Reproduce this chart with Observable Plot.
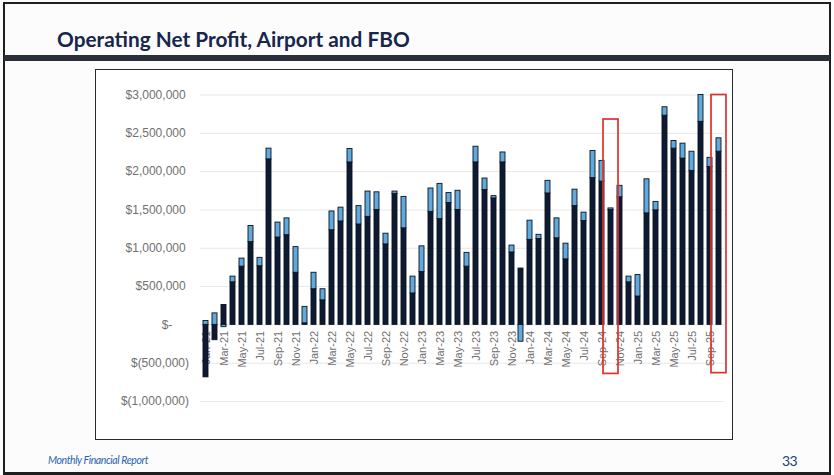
<!DOCTYPE html>
<html>
<head>
<meta charset="utf-8">
<script src="https://cdn.jsdelivr.net/npm/d3@7"></script>
<script src="https://cdn.jsdelivr.net/npm/@observablehq/plot@0.6"></script>
<style>
  html, body { margin: 0; padding: 0; background: #ffffff; }
  #page { position: relative; width: 834px; height: 475px; overflow: hidden; background: #fcfcfc; }
  #frame { position: absolute; left: 3px; top: 2px; width: 828px; height: 473px; box-sizing: border-box;
           border: 2px solid #1e1e1e; border-bottom-width: 3px; }
  #title { position: absolute; left: 57px; top: 27px; font-family: Lato, "Open Sans", sans-serif; font-weight: 700;
           font-size: 20.8px; line-height: 24px; color: #17264a; white-space: nowrap; }
  #rule { position: absolute; left: 4px; top: 55px; width: 826px; height: 6px; background: #2a2f39; }
  #box { position: absolute; left: 95px; top: 69px; width: 638px; height: 371px; box-sizing: border-box;
         border: 1.5px solid #2b2b2b; background: #ffffff; }
  #chart { position: absolute; left: 96px; top: 70px; width: 635px; height: 368px; }
  #footer { position: absolute; left: 48px; top: 454px; font-family: Lato, sans-serif; font-style: italic;
            font-size: 10.5px; letter-spacing: -0.4px; color: #2a62ae; white-space: nowrap; }
  #pageno { position: absolute; left: 782px; top: 452px; font-family: Lato, sans-serif; font-size: 14px;
            color: #1f3d70; letter-spacing: -0.5px; }
</style>
</head>
<body>
<div id="page">
  <div id="frame"></div>
  <div id="title">Operating Net Profit, Airport and FBO</div>
  <div id="rule"></div>
  <div id="box"></div>
  <div id="chart"></div>
  <div id="footer">Monthly Financial Report</div>
  <div id="pageno">33</div>
</div>
<script>
// ---- data ----
const months = [
  "Jan-21","Feb-21","Mar-21","Apr-21","May-21","Jun-21","Jul-21","Aug-21","Sep-21","Oct-21","Nov-21","Dec-21",
  "Jan-22","Feb-22","Mar-22","Apr-22","May-22","Jun-22","Jul-22","Aug-22","Sep-22","Oct-22","Nov-22","Dec-22",
  "Jan-23","Feb-23","Mar-23","Apr-23","May-23","Jun-23","Jul-23","Aug-23","Sep-23","Oct-23","Nov-23","Dec-23",
  "Jan-24","Feb-24","Mar-24","Apr-24","May-24","Jun-24","Jul-24","Aug-24","Sep-24","Oct-24","Nov-24","Dec-24",
  "Jan-25","Feb-25","Mar-25","Apr-25","May-25","Jun-25","Jul-25","Aug-25","Sep-25","Oct-25"
];
const airport = [
  -685000, -200000, 260000, 555000, 760000, 1080000, 765000, 2160000, 1140000, 1170000, 680000, 20000,
  465000, 320000, 1235000, 1350000, 2120000, 1310000, 1410000, 1500000, 1050000, 1710000, 1260000, 410000,
  690000, 1475000, 1380000, 1590000, 1500000, 760000, 2120000, 1760000, 1650000, 2120000, 945000, 735000,
  1110000, 1120000, 1715000, 1130000, 855000, 1550000, 1355000, 1915000, 1870000, 1500000, 1665000, 555000,
  370000, 1455000, 1495000, 2730000, 2300000, 2170000, 2010000, 2650000, 2060000, 2260000
];
const fbo = [
  50000, 150000, -30000, 75000, 105000, 210000, 110000, 140000, 195000, 220000, 335000, 215000,
  215000, 145000, 245000, 180000, 175000, 240000, 330000, 230000, 140000, 30000, 410000, 220000,
  335000, 305000, 460000, 130000, 250000, 180000, 205000, 150000, 30000, 130000, 90000, -220000,
  250000, 55000, 165000, 260000, 205000, 215000, 110000, 355000, 270000, 20000, 150000, 75000,
  280000, 445000, 110000, 110000, 100000, 195000, 250000, 350000, 120000, 175000
];
const seriesNames = ["Airport", "FBO"];
const seriesColors = ["#0d1a31", "#5fa9dc"];
const xTickLabels = [
  "Jan-21","Mar-21","May-21","Jul-21","Sep-21","Nov-21",
  "Jan-22","Mar-22","May-22","Jul-22","Sep-22","Nov-22",
  "Jan-23","Mar-23","May-23","Jul-23","Sep-23","Nov-23",
  "Jan-24","Mar-24","May-24","Jul-24","Sep-24","Nov-24",
  "Jan-25","Mar-25","May-25","Jul-25","Sep-25"
];
const yTicks = [-1000000, -500000, 0, 500000, 1000000, 1500000, 2000000, 2500000, 3000000];
const highlightMonths = ["Oct-24", "Oct-25"];
const highlightTop = [2680000, 3000000];
const highlightBottom = [-640000, -630000];

// ---- tables built from arrays ----
const table = [];
months.forEach((m, i) => {
  table.push({month: m, series: "Airport", value: airport[i]});
  table.push({month: m, series: "FBO", value: fbo[i]});
});
const highlights = highlightMonths.map((m, i) => ({month: m, high: highlightTop[i], low: highlightBottom[i]}));

const fmtNum = d3.format(",");
const fmt = v => v === 0 ? "$-\u2007\u2007\u00a0"
  : v < 0 ? "$(" + fmtNum(-v) + ")" : "$" + fmtNum(v) + "\u00a0";

const chart = Plot.plot({
  width: 635,
  height: 368,
  marginLeft: 103.5,
  marginRight: 7.2,
  marginTop: 24.5,
  marginBottom: 37,
  style: {background: "transparent", fontFamily: "'Liberation Sans', Arial, sans-serif", color: "#707070", overflow: "visible"},
  x: {type: "band", domain: months, paddingInner: 0.5, paddingOuter: 0.25, axis: null},
  y: {domain: [-1000000, 3000000], axis: null},
  color: {domain: seriesNames, range: seriesColors},
  marks: [
    Plot.ruleY(yTicks, {stroke: "#e8e8e8", strokeWidth: 1}),
    Plot.axisY({ticks: yTicks, tickSize: 0, tickPadding: 11, tickFormat: fmt, fontSize: 12, fill: "#707070", style: "letter-spacing:1px"}),
    Plot.text(xTickLabels, {x: d => d, y: () => 0, text: d => d, rotate: -90, textAnchor: "end", lineAnchor: "middle",
      dy: 6, fontSize: 11, fill: "#707070"}),
    Plot.barY(table, Plot.stackY({x: "month", y: "value", fill: "series", order: seriesNames,
      stroke: "#0a1322", strokeWidth: 0.9})),
    Plot.barY(highlights, {x: "month", y1: "low", y2: "high", fill: "none", stroke: "#e0302c", strokeWidth: 1.7,
      insetLeft: -5, insetRight: -5})
  ]
});
document.getElementById("chart").appendChild(chart);
</script>
</body>
</html>
